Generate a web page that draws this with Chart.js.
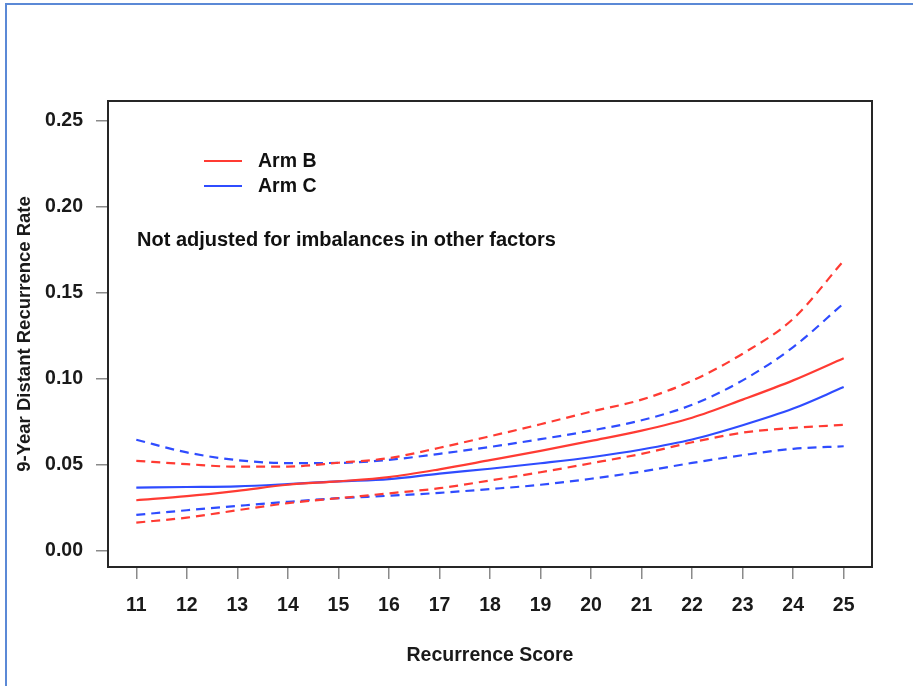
<!DOCTYPE html>
<html>
<head>
<meta charset="utf-8">
<script src="https://cdn.jsdelivr.net/npm/chart.js@4/dist/chart.umd.min.js"></script>
<style>
  body { margin: 0; background: #fff; }
  #wrap { position: relative; width: 913px; height: 686px; overflow: hidden; }
  #frame { position: absolute; left: 5px; top: 3px; width: 2000px; height: 2000px;
           border-left: 2px solid #5b89d6; border-top: 2px solid #5b89d6; }
  canvas { position: absolute; left: 0; top: 0; }
</style>
</head>
<body>
<div id="wrap">
  <div id="frame"></div>
  <canvas id="curveChart" width="913" height="686"></canvas>
</div>
<script>
// recurrence score on the x axis
const scores = [11, 12, 13, 14, 15, 16, 17, 18, 19, 20, 21, 22, 23, 24, 25];
const yTicks = [0, 0.05, 0.10, 0.15, 0.20, 0.25];

// Arm B estimate with 95% band
const armB      = [0.0295, 0.0319, 0.0350, 0.0385, 0.0405, 0.0430, 0.0475, 0.0528, 0.0582, 0.0640, 0.0700, 0.0775, 0.0880, 0.0992, 0.1121];
const armBLower = [0.0165, 0.0194, 0.0237, 0.0278, 0.0307, 0.0335, 0.0365, 0.0410, 0.0458, 0.0510, 0.0565, 0.0632, 0.0688, 0.0716, 0.0733];
const armBUpper = [0.0524, 0.0505, 0.0490, 0.0491, 0.0513, 0.0540, 0.0600, 0.0667, 0.0737, 0.0810, 0.0880, 0.0990, 0.1147, 0.1350, 0.1688];

// Arm C estimate with 95% band
const armC      = [0.0369, 0.0372, 0.0376, 0.0389, 0.0405, 0.0418, 0.0450, 0.0478, 0.0510, 0.0545, 0.0590, 0.0648, 0.0731, 0.0828, 0.0953];
const armCLower = [0.0210, 0.0237, 0.0262, 0.0286, 0.0307, 0.0321, 0.0338, 0.0360, 0.0385, 0.0420, 0.0462, 0.0512, 0.0557, 0.0594, 0.0609];
const armCUpper = [0.0647, 0.0573, 0.0528, 0.0511, 0.0512, 0.0530, 0.0565, 0.0605, 0.0650, 0.0700, 0.0760, 0.0850, 0.0992, 0.1185, 0.1440];

const RED = '#ff3b33';
const BLUE = '#2f4cff';
const FONT = "'Liberation Sans', Arial, Helvetica, sans-serif";

function toPoints(values) {
  return scores.map((s, i) => ({ x: s, y: values[i] }));
}

function line(label, values, color, dashed) {
  return {
    label: label,
    data: toPoints(values),
    borderColor: color,
    borderWidth: 2.2,
    borderDash: dashed ? [9, 6] : [],
    pointRadius: 0,
    fill: false,
    cubicInterpolationMode: 'monotone',
    showInLegend: !dashed,
  };
}

// box around plot, legend and note, R style
const boxAndNotes = {
  id: 'boxAndNotes',
  afterDraw(chart) {
    const { ctx, chartArea } = chart;
    ctx.save();
    ctx.strokeStyle = '#262626';
    ctx.lineWidth = 2;
    ctx.strokeRect(chartArea.left, chartArea.top, chartArea.right - chartArea.left, chartArea.bottom - chartArea.top);

    const items = chart.data.datasets.filter(d => d.showInLegend);
    const lx = chartArea.left + 96;
    let ly = chartArea.top + 60;
    ctx.font = 'bold 19.5px ' + FONT;
    ctx.textBaseline = 'middle';
    ctx.textAlign = 'left';
    items.forEach(d => {
      ctx.strokeStyle = d.borderColor;
      ctx.lineWidth = 2.2;
      ctx.beginPath();
      ctx.moveTo(lx, ly);
      ctx.lineTo(lx + 38, ly);
      ctx.stroke();
      ctx.fillStyle = '#111';
      ctx.fillText(d.label, lx + 54, ly + 1);
      ly += 25;
    });

    ctx.font = 'bold 20px ' + FONT;
    ctx.fillText('Not adjusted for imbalances in other factors', chartArea.left + 29, chartArea.top + 139);
    ctx.restore();
  }
};

const ctx = document.getElementById('curveChart').getContext('2d');
new Chart(ctx, {
  type: 'line',
  data: {
    datasets: [
      line('Arm B', armB, RED, false),
      line('Arm C', armC, BLUE, false),
      line('Arm B lower', armBLower, RED, true),
      line('Arm B upper', armBUpper, RED, true),
      line('Arm C lower', armCLower, BLUE, true),
      line('Arm C upper', armCUpper, BLUE, true),
    ],
  },
  options: {
    responsive: false,
    animation: false,
    layout: { padding: { top: 101, right: 41, left: 0, bottom: 0 } },
    plugins: {
      legend: { display: false },
      tooltip: { enabled: false },
    },
    scales: {
      x: {
        type: 'linear',
        min: 10.44,
        max: 25.56,
        afterBuildTicks: scale => { scale.ticks = scores.map(v => ({ value: v })); },
        afterFit: scale => { scale.height = 119; },
        grid: { drawOnChartArea: false, drawTicks: true, tickLength: 12, tickColor: '#8a8a8a', lineWidth: 1.5 },
        border: { display: false },
        ticks: { color: '#1a1a1a', padding: 15, maxRotation: 0, font: { family: FONT, size: 19.5, weight: 'bold' } },
        title: { display: true, text: 'Recurrence Score', color: '#1a1a1a', padding: { top: 0, bottom: 19 }, font: { family: FONT, size: 19.5, weight: 'bold' } },
      },
      y: {
        min: -0.0093,
        max: 0.2616,
        afterBuildTicks: scale => { scale.ticks = yTicks.map(v => ({ value: v })); },
        afterFit: scale => { scale.width = 108; },
        grid: { drawOnChartArea: false, drawTicks: true, tickLength: 12, tickColor: '#8a8a8a', lineWidth: 1.5 },
        border: { display: false },
        ticks: { color: '#1a1a1a', padding: 13, callback: v => v.toFixed(2), font: { family: FONT, size: 19.5, weight: 'bold' } },
        title: { display: true, text: '9-Year Distant Recurrence Rate', color: '#1a1a1a', padding: { top: 14, bottom: 0 }, font: { family: FONT, size: 18.5, weight: 'bold' } },
      },
    },
  },
  plugins: [boxAndNotes],
});
</script>
</body>
</html>
